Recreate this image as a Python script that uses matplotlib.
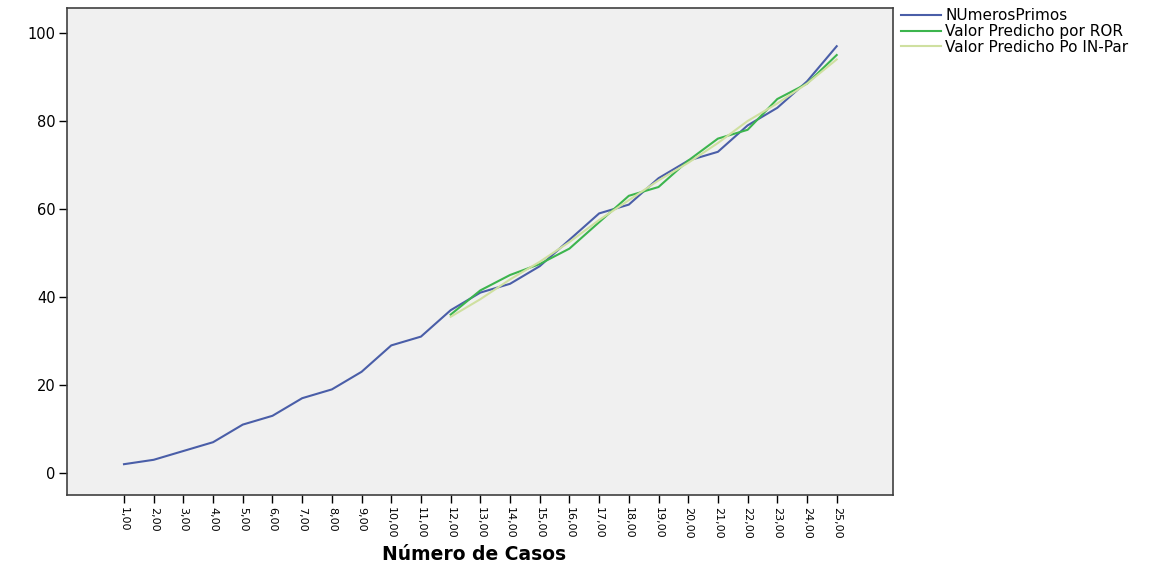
import matplotlib
matplotlib.use('Agg')
import matplotlib.pyplot as plt

plt.rcParams['font.family'] = ['DejaVu Sans']

# case numbers and series
casos = list(range(1, 26))
primos = [2, 3, 5, 7, 11, 13, 17, 19, 23, 29, 31, 37, 41, 43, 47, 53, 59, 61,
          67, 71, 73, 79, 83, 89, 97]
casos_pred = list(range(12, 26))
pred_ror = [36, 41.5, 45, 47.5, 51, 57, 63, 65, 71, 76, 78, 85, 88.5, 95]
pred_inpar = [35.5, 39.5, 44, 48, 52.5, 57.5, 62, 66.5, 70.5, 75, 80, 84, 88.5, 94]
x_labels = [f"{c},00" for c in casos]

fig = plt.figure(figsize=(11.69, 5.67), dpi=100)
ax = fig.add_axes([0.0573, 0.127, 0.7067, 0.859])
ax.set_facecolor('#f0f0f0')

ax.plot(casos, primos, color='#4a5ea8', lw=1.5, label='NUmerosPrimos')
ax.plot(casos_pred, pred_ror, color='#3cb54e', lw=1.5, label='Valor Predicho por ROR')
ax.plot(casos_pred, pred_inpar, color='#cfe0a0', lw=1.5, label='Valor Predicho Po IN-Par')

ax.set_xlim(-0.92, 26.9)
ax.set_ylim(-5, 105.7)
ax.set_xticks(casos)
ax.set_xticklabels(x_labels, rotation=-90, fontsize=8)
ax.set_yticks([0, 20, 40, 60, 80, 100])
ax.tick_params(axis='y', labelsize=10.5, length=6, width=1, pad=2)
ax.tick_params(axis='x', length=6, width=1, pad=3)
for s in ax.spines.values():
    s.set_color('#404040')
    s.set_linewidth(1.2)

# x axis title placed below the rotated tick labels
fig.text(474 / 1169, 1 - 554 / 567, 'Número de Casos', fontsize=13.5,
         fontweight='bold', ha='center', va='center')

ax.legend(loc='upper left', bbox_to_anchor=(1.002, 1.012), frameon=False,
          fontsize=11, handlelength=2.6, handletextpad=0.3, labelspacing=0.05,
          borderaxespad=0.0)

fig.savefig('out.png', dpi=100)
